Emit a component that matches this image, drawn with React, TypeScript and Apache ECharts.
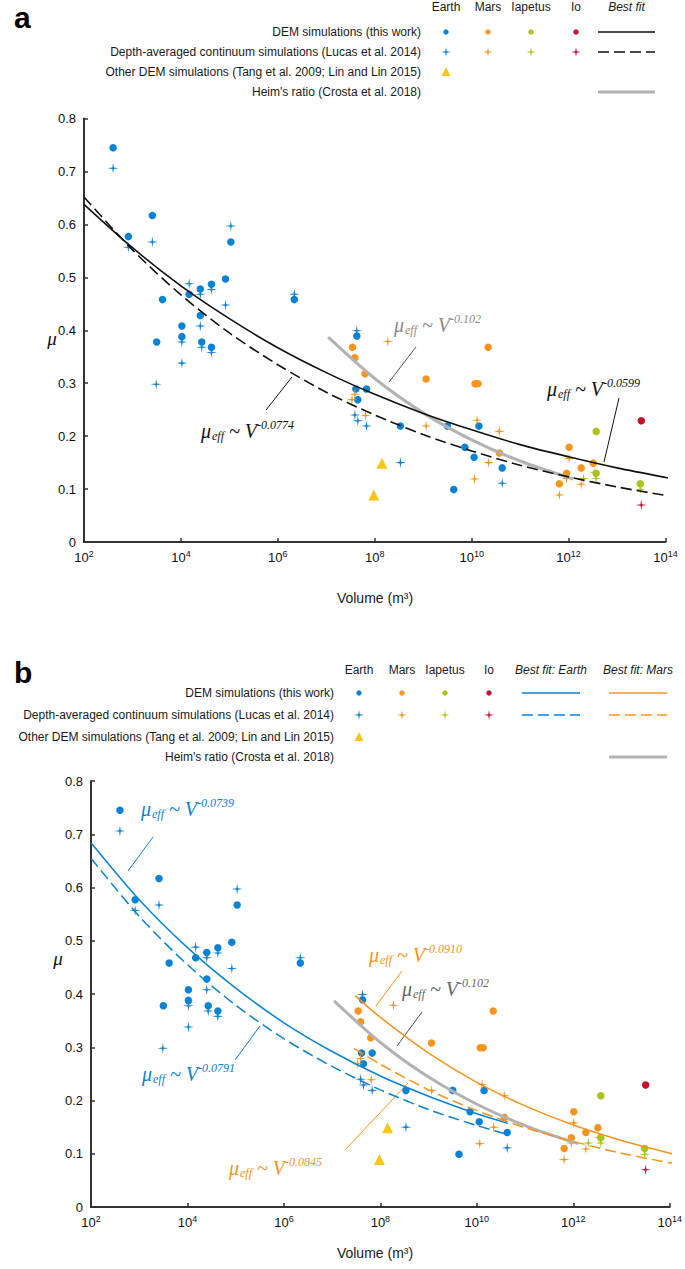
import React, { useEffect, useRef } from "react";
import * as echarts from "echarts";

// ---- data (x = log10 of volume in m^3, y = mu) ----
const earthDemLogV = [2.6, 2.915, 3.41, 3.62, 3.5, 4.02, 4.02, 4.17, 4.4, 4.4, 4.43, 4.63, 4.63, 4.92, 5.03, 6.34, 7.63, 7.61, 7.83, 7.65, 8.53, 9.5, 10.15, 9.86, 10.05, 10.63, 9.63];
const earthDemMu = [0.745, 0.577, 0.617, 0.458, 0.378, 0.408, 0.388, 0.468, 0.478, 0.428, 0.378, 0.487, 0.368, 0.497, 0.567, 0.458, 0.389, 0.289, 0.289, 0.269, 0.219, 0.219, 0.219, 0.179, 0.16, 0.14, 0.099];
const earthContLogV = [2.6, 2.915, 3.41, 3.49, 4.02, 4.02, 4.17, 4.4, 4.4, 4.43, 4.63, 4.63, 4.92, 5.03, 6.34, 7.63, 7.59, 7.65, 7.83, 8.53, 10.63];
const earthContMu = [0.706, 0.557, 0.567, 0.298, 0.378, 0.338, 0.488, 0.468, 0.408, 0.368, 0.477, 0.358, 0.448, 0.597, 0.468, 0.399, 0.24, 0.229, 0.219, 0.15, 0.111];
const marsDemLogV = [7.54, 7.59, 7.8, 9.06, 10.07, 10.13, 10.34, 10.57, 12.01, 12.51, 12.26, 11.96, 11.81];
const marsDemMu = [0.368, 0.348, 0.318, 0.308, 0.299, 0.299, 0.368, 0.168, 0.179, 0.149, 0.14, 0.13, 0.11];
const marsContLogV = [7.59, 7.53, 7.81, 8.27, 9.06, 10.11, 10.57, 10.35, 10.06, 12.01, 12.53, 11.96, 12.26, 11.81];
const marsContMu = [0.279, 0.269, 0.239, 0.379, 0.219, 0.23, 0.209, 0.15, 0.119, 0.158, 0.131, 0.12, 0.109, 0.089];
const iapDemLogV = [12.57, 12.57, 13.48];
const iapDemMu = [0.209, 0.13, 0.11];
const iapContLogV = [12.57, 12.31, 13.48];
const iapContMu = [0.12, 0.12, 0.099];
const ioDemLogV = [13.5];
const ioDemMu = [0.229];
const ioContLogV = [13.5];
const ioContMu = [0.07];
const otherDemLogV = [8.15, 7.98];
const otherDemMu = [0.149, 0.089];

// best-fit curves
const fitALogV = [2, 3, 4, 5, 6, 7, 8, 9, 10, 11, 12, 13, 14, 14.09];
const fitADem = [0.638, 0.556, 0.484, 0.422, 0.367, 0.32, 0.279, 0.243, 0.212, 0.184, 0.161, 0.14, 0.122, 0.121];
const fitACont = [0.652, 0.552, 0.467, 0.395, 0.335, 0.283, 0.24, 0.203, 0.172, 0.145, 0.123, 0.104, 0.088, 0.087];
const heimLogV = [7.04, 8, 9, 10, 11, 12.1];
const heimMu = [0.387, 0.309, 0.244, 0.193, 0.153, 0.119];
const fitBEarthLogV = [2, 3, 4, 5, 6, 7, 8, 9, 10, 10.65];
const fitBEarthDem = [0.684, 0.577, 0.487, 0.411, 0.346, 0.292, 0.246, 0.208, 0.175, 0.157];
const fitBEarthCont = [0.655, 0.546, 0.455, 0.379, 0.316, 0.264, 0.22, 0.183, 0.153, 0.136];
const fitBMarsDemLogV = [7.48, 8, 9, 10, 11, 12, 13, 14, 14.09];
const fitBMarsDem = [0.397, 0.356, 0.289, 0.234, 0.19, 0.154, 0.125, 0.101, 0.099];
const fitBMarsContLogV = [7.45, 8, 9, 10, 11, 12, 13, 14, 14.09];
const fitBMarsCont = [0.298, 0.268, 0.22, 0.181, 0.149, 0.123, 0.101, 0.083, 0.082];

const xTicks = [2, 4, 6, 8, 10, 12, 14];
const legendRows = [
  "DEM simulations (this work)",
  "Depth-averaged continuum simulations (Lucas et al. 2014)",
  "Other DEM simulations (Tang et al. 2009; Lin and Lin 2015)",
  "Heim's ratio (Crosta et al. 2018)",
];
const bodies = ["Earth", "Mars", "Iapetus", "Io"];

const C_EARTH = "#0a82d4";
const C_MARS = "#f7941d";
const C_IAP = "#a4c61a";
const C_IO = "#c8102e";
const C_OTHER = "#f8c615";
const C_HEIM = "#b2b2b2";
const SANS = '"Liberation Sans", Arial, sans-serif';
const SERIF = '"Liberation Serif", "Times New Roman", serif';
const STAR = "path://M50 0 L57 43 L100 50 L57 57 L50 100 L43 57 L0 50 L43 43 Z";

const zip = (xs: number[], ys: number[]) => xs.map((x, i) => [x, ys[i]]);

function scatter(g: number, xs: number[], ys: number[], color: string, symbol: string, size: number) {
  return {
    type: "scatter",
    xAxisIndex: g,
    yAxisIndex: g,
    data: zip(xs, ys),
    symbol,
    symbolSize: size,
    itemStyle: { color, opacity: 1 },
    silent: true,
    z: 2,
  };
}
function line(g: number, xs: number[], ys: number[], color: string, width: number, dash?: number[]) {
  return {
    type: "line",
    xAxisIndex: g,
    yAxisIndex: g,
    data: zip(xs, ys),
    showSymbol: false,
    smooth: 0.3,
    clip: false,
    lineStyle: { color, width, type: dash ? dash : "solid" },
    silent: true,
    z: 3,
  };
}

function star(cx: number, cy: number, s: number, fill: string) {
  const k = 0.15 * s;
  return {
    type: "polygon",
    shape: {
      points: [[cx, cy - s], [cx + k, cy - k], [cx + s, cy], [cx + k, cy + k], [cx, cy + s], [cx - k, cy + k], [cx - s, cy], [cx - k, cy - k]],
    },
    style: { fill },
  };
}
function dot(cx: number, cy: number, fill: string) {
  return { type: "circle", shape: { cx, cy, r: 2.7 }, style: { fill } };
}
function tri(cx: number, cy: number, fill: string) {
  return { type: "polygon", shape: { points: [[cx, cy - 5], [cx + 4.5, cy + 4], [cx - 4.5, cy + 4]] }, style: { fill } };
}
function txt(x: number, y: number, text: string, align: string, opts: any = {}) {
  return {
    type: "text",
    x,
    y,
    style: {
      text,
      fill: opts.fill || "#1a1a1a",
      font: opts.font || `12px ${SANS}`,
      align,
      verticalAlign: "middle",
    },
  };
}
function seg(x1: number, y1: number, x2: number, y2: number, stroke: string, lineWidth: number, lineDash?: number[]) {
  return { type: "line", shape: { x1, y1, x2, y2 }, style: { stroke, lineWidth, lineDash: lineDash || null } };
}
function annot(x: number, y: number, exp: string, fill: string) {
  return {
    type: "text",
    x,
    y,
    style: {
      text: `{m|μ}{sub|eff}{t| ~ V}{sup|${exp}}`,
      fill,
      verticalAlign: "middle",
      rich: {
        m: { fontSize: 20, fontFamily: SERIF, fontStyle: "italic" },
        sub: { fontSize: 12, fontFamily: SERIF, fontStyle: "italic", padding: [10, 0, 0, 1] },
        t: { fontSize: 20, fontFamily: SERIF, fontStyle: "italic" },
        sup: { fontSize: 12, fontFamily: SERIF, fontStyle: "italic", padding: [0, 0, 12, 0] },
      },
    },
  };
}

function legend(
  headerY: number,
  rowYs: number[],
  textRight: number,
  bodyXs: number[],
  fitCols: { label: string; x1: number; x2: number; color: string; heim: boolean }[]
) {
  const els: any[] = [];
  bodies.forEach((b, i) => els.push(txt(bodyXs[i], headerY, b, "center")));
  legendRows.forEach((r, i) => els.push(txt(textRight, rowYs[i], r, "right")));
  const cols = [C_EARTH, C_MARS, C_IAP, C_IO];
  cols.forEach((c, i) => {
    els.push(dot(bodyXs[i], rowYs[0], c));
    els.push(star(bodyXs[i], rowYs[1], 5, c));
  });
  els.push(tri(bodyXs[0], rowYs[2], C_OTHER));
  fitCols.forEach((f) => {
    els.push(txt((f.x1 + f.x2) / 2, headerY, f.label, "center", { font: `italic 12px ${SANS}` }));
    els.push(seg(f.x1, rowYs[0], f.x2, rowYs[0], f.color, 1.6));
    els.push(seg(f.x1, rowYs[1], f.x2, rowYs[1], f.color, 1.6, [11, 5]));
    if (f.heim) els.push(seg(f.x1, rowYs[3], f.x2, rowYs[3], C_HEIM, 3));
  });
  return els;
}

function axes(g: number) {
  const axisLine = { show: true, lineStyle: { color: "#333", width: 2 } };
  const axisTick = { show: true, inside: true, length: 4, lineStyle: { color: "#333", width: 1.5 } };
  return {
    x: {
      gridIndex: g,
      type: "value",
      min: 2,
      max: 14,
      interval: 2,
      axisLine,
      axisTick,
      splitLine: { show: false },
      axisLabel: {
        margin: 7,
        color: "#111",
        fontFamily: SANS,
        fontSize: 13,
        formatter: (v: number) => (xTicks.includes(v) ? `{b|10}{s|${v}}` : ""),
        rich: {
          b: { fontSize: 13, fontFamily: SANS, color: "#111" },
          s: { fontSize: 9, fontFamily: SANS, color: "#111", padding: [0, 0, 7, 0] },
        },
      },
    },
    y: {
      gridIndex: g,
      type: "value",
      min: 0,
      max: 0.8,
      interval: 0.1,
      axisLine,
      axisTick,
      splitLine: { show: false },
      axisLabel: {
        margin: 8,
        color: "#111",
        fontFamily: SANS,
        fontSize: 13,
        formatter: (v: number) => (v === 0 ? "0" : v.toFixed(1)),
      },
    },
  };
}

function panelSeries(g: number) {
  return [
    scatter(g, earthDemLogV, earthDemMu, C_EARTH, "circle", 7.5),
    scatter(g, earthContLogV, earthContMu, C_EARTH, STAR, 11),
    scatter(g, marsDemLogV, marsDemMu, C_MARS, "circle", 7.5),
    scatter(g, marsContLogV, marsContMu, C_MARS, STAR, 11),
    scatter(g, iapDemLogV, iapDemMu, C_IAP, "circle", 7.5),
    scatter(g, iapContLogV, iapContMu, C_IAP, STAR, 11),
    scatter(g, ioDemLogV, ioDemMu, C_IO, "circle", 7.5),
    scatter(g, ioContLogV, ioContMu, C_IO, STAR, 11),
    scatter(g, otherDemLogV, otherDemMu, C_OTHER, "triangle", 11),
  ];
}

export default function App() {
  const ref = useRef<HTMLDivElement>(null);
  useEffect(() => {
    if (!ref.current) return;
    const chart = echarts.init(ref.current, undefined, { renderer: "svg" });
    const a = axes(0);
    const b = axes(1);
    const graphic: any[] = [
      txt(14, 17, "a", "left", { font: `bold 30px ${SANS}`, fill: "#000" }),
      txt(14, 672, "b", "left", { font: `bold 30px ${SANS}`, fill: "#000" }),
      ...legend(7, [32, 52, 72, 92], 421, [446, 488, 531, 576], [
        { label: "Best fit", x1: 598, x2: 655, color: "#111", heim: true },
      ]),
      ...legend(670, [693, 715, 737, 757], 334, [359, 402, 445, 489], [
        { label: "Best fit: Earth", x1: 522, x2: 580, color: C_EARTH, heim: false },
        { label: "Best fit: Mars", x1: 609, x2: 667, color: C_MARS, heim: true },
      ]),
      txt(375, 598, "Volume (m³)", "center", { font: `14px ${SANS}` }),
      txt(375, 1253, "Volume (m³)", "center", { font: `14px ${SANS}` }),
      txt(52, 338, "μ", "center", { font: `italic 19px ${SERIF}`, fill: "#111" }),
      txt(58, 958, "μ", "center", { font: `italic 19px ${SERIF}`, fill: "#111" }),
      // panel a annotations
      annot(394, 325, "-0.102", "#8a8a8a"),
      seg(416, 347, 389, 382, "#555", 1),
      annot(547, 389, "-0.0599", "#111"),
      seg(619, 398, 604, 462, "#111", 1),
      annot(201, 431, "-0.0774", "#111"),
      seg(292, 377, 266, 410, "#111", 1),
      // panel b annotations
      annot(141, 809, "-0.0739", C_EARTH),
      seg(153, 837, 128, 871, C_EARTH, 1),
      annot(142, 1074, "-0.0791", C_EARTH),
      seg(260, 1026, 235, 1060, C_EARTH, 1),
      annot(229, 1168, "-0.0845", C_MARS),
      seg(345, 1150, 408, 1083, C_MARS, 1),
      annot(369, 955, "-0.0910", C_MARS),
      seg(402, 971, 376, 1006, C_MARS, 1),
      annot(402, 989, "-0.102", "#666"),
      seg(422, 1012, 397, 1046, "#555", 1),
    ];
    chart.setOption({
      animation: false,
      backgroundColor: "#fff",
      grid: [
        { left: 84, right: 19.5, top: 118.6, bottom: 727 },
        { left: 91, right: 13, top: 781, bottom: 62 },
      ],
      xAxis: [a.x, b.x],
      yAxis: [a.y, b.y],
      series: [
        ...panelSeries(0),
        line(0, heimLogV, heimMu, C_HEIM, 3),
        line(0, fitALogV, fitADem, "#111", 1.6),
        line(0, fitALogV, fitACont, "#111", 1.6, [11, 5]),
        ...panelSeries(1),
        line(1, heimLogV, heimMu, C_HEIM, 3),
        line(1, fitBEarthLogV, fitBEarthDem, C_EARTH, 1.5),
        line(1, fitBEarthLogV, fitBEarthCont, C_EARTH, 1.5, [11, 5]),
        line(1, fitBMarsDemLogV, fitBMarsDem, C_MARS, 1.5),
        line(1, fitBMarsContLogV, fitBMarsCont, C_MARS, 1.5, [11, 5]),
      ],
      graphic,
    });
    return () => chart.dispose();
  }, []);
  return (
    <div
      ref={ref}
      style={{ position: "absolute", left: 0, top: 0, width: 685, height: 1269, background: "#fff" }}
    />
  );
}
